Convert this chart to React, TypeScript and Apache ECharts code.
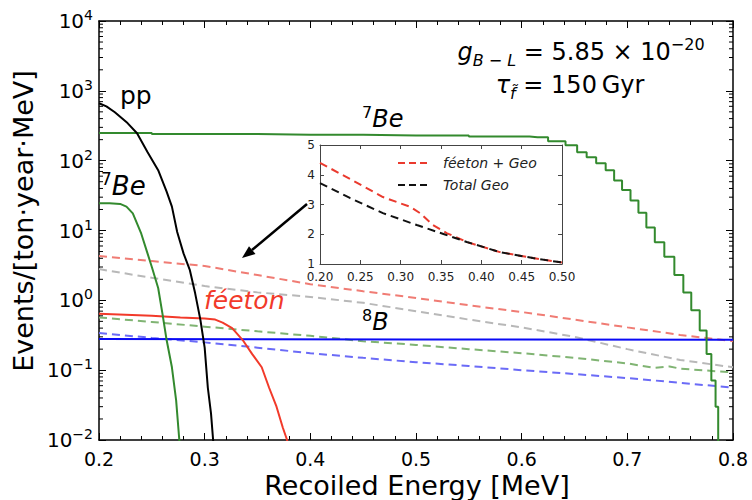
import React, { useEffect, useRef } from 'react';
import * as echarts from 'echarts';

// ---- main panel data (Recoiled energy [MeV] vs events/[ton·year·MeV]) ----
const ppE = [0.2, 0.207, 0.215, 0.227, 0.236, 0.246, 0.256, 0.264, 0.269, 0.274, 0.28, 0.286, 0.291, 0.296, 0.3, 0.303, 0.306, 0.308, 0.309];
const ppV = [665, 600, 493, 345, 247, 132, 73, 36, 22, 9.5, 4.7, 2.7, 1.26, 0.52, 0.21, 0.056, 0.024, 0.01, 0.005];

const be7HighE = [0.2, 0.3, 0.4, 0.5, 0.6, 0.615, 0.635, 0.648, 0.657, 0.666, 0.675, 0.684, 0.691, 0.699, 0.707, 0.714, 0.722, 0.73, 0.74, 0.749, 0.757, 0.764, 0.773, 0.777, 0.782, 0.785, 0.787];
const be7HighV = [248, 240, 235, 230, 222, 217, 190, 166, 132, 112, 92, 73, 52, 38, 27, 18, 11, 6.8, 4.2, 2.3, 1.3, 0.72, 0.37, 0.17, 0.071, 0.03, 0.005];

const be7LowE = [0.2, 0.21, 0.22, 0.226, 0.232, 0.24, 0.245, 0.25, 0.256, 0.26, 0.264, 0.269, 0.273, 0.276, 0.278];
const be7LowV = [24.5, 24.5, 24, 22, 17.6, 9, 5.2, 3, 1.5, 0.65, 0.27, 0.11, 0.037, 0.01, 0.004];

const feetonE = [0.2, 0.25, 0.277, 0.3, 0.31, 0.317, 0.326, 0.336, 0.345, 0.354, 0.361, 0.368, 0.374, 0.378, 0.38];
const feetonV = [0.64, 0.6, 0.57, 0.55, 0.53, 0.48, 0.4, 0.27, 0.17, 0.11, 0.056, 0.03, 0.015, 0.01, 0.005];

const b8E = [0.2, 0.5, 0.8];
const b8V = [0.28, 0.275, 0.272];

const geoE = [0.2, 0.25, 0.3, 0.35, 0.4, 0.45, 0.5, 0.55, 0.6, 0.65, 0.7, 0.75, 0.8];
const feetonGeoV = [4.3, 3.65, 3.1, 2.3, 1.7, 1.35, 1.08, 0.85, 0.68, 0.53, 0.41, 0.32, 0.26];
const grayGeoV = [2.8, 2.1, 1.6, 1.3, 1.12, 0.92, 0.7, 0.53, 0.41, 0.3, 0.2, 0.14, 0.11];
const blueGeoV = [0.34, 0.29, 0.25, 0.21, 0.175, 0.15, 0.13, 0.115, 0.1, 0.088, 0.077, 0.066, 0.056];
const greenGeoE = [0.2, 0.25, 0.3, 0.35, 0.4, 0.45, 0.5, 0.55, 0.6, 0.65, 0.7, 0.725, 0.74, 0.75, 0.8];
const greenGeoV = [0.57, 0.49, 0.42, 0.36, 0.31, 0.26, 0.23, 0.2, 0.175, 0.15, 0.125, 0.108, 0.113, 0.105, 0.093];

// ---- inset data ----
const insetRedE = [0.2, 0.233, 0.278, 0.312, 0.324, 0.34, 0.357, 0.382, 0.423, 0.464, 0.5];
const insetRedV = [4.4, 3.92, 3.25, 2.92, 2.71, 2.31, 2.04, 1.74, 1.4, 1.2, 1.05];
const insetBlackE = [0.2, 0.237, 0.278, 0.32, 0.353, 0.382, 0.423, 0.464, 0.5];
const insetBlackV = [3.72, 3.22, 2.71, 2.31, 2.01, 1.74, 1.4, 1.2, 1.05];
const insetLegend = ['féeton + Geo', 'Total Geo'];
const insetColors = ['#ea3a2e', '#111'];

// ---- tick decorations ----
const decades = [-2, -1, 0, 1, 2, 3];
const minorMults = [2, 3, 4, 5, 6, 7, 8, 9];

const zip = (a: number[], b: number[]) => a.map((x, i) => [x, b[i]]);
const FONT = 'DejaVu Sans';

const supFmt = (v: number) => {
  const e = Math.round(Math.log10(v));
  const s = e < 0 ? '\u2212' + -e : String(e);
  return `{b|10}{s|${s}}`;
};

export default function App() {
  const ref = useRef<HTMLDivElement>(null);
  useEffect(() => {
    const chart = echarts.init(ref.current!, null, { renderer: 'svg' });
    const yMinor: number[][] = [];
    decades.forEach((d) => minorMults.forEach((m) => yMinor.push([0.2, m * Math.pow(10, d)])));

    const mainX = (pos: 'bottom' | 'top', labels: boolean) => ({
      type: 'value', gridIndex: 0, position: pos, min: 0.2, max: 0.8, interval: 0.1,
      axisLine: { show: true, lineStyle: { color: '#000', width: 1.5 } },
      axisTick: { show: true, inside: true, length: 7, lineStyle: { color: '#000', width: 1 } },
      minorTick: { show: true, splitNumber: 5, length: 4, lineStyle: { color: '#000', width: 1 } },
      splitLine: { show: false },
      axisLabel: { show: labels, fontSize: 19, lineHeight: 19, color: '#000', fontFamily: FONT, margin: 9, formatter: (v: number) => v.toFixed(1) },
    });
    const mainY = (pos: 'left' | 'right', labels: boolean) => ({
      type: 'log', gridIndex: 0, position: pos, min: 0.01, max: 10000, logBase: 10,
      axisLine: { show: true, lineStyle: { color: '#000', width: 1.5 } },
      axisTick: { show: true, inside: true, length: 7, lineStyle: { color: '#000', width: 1 } },
      splitLine: { show: false },
      axisLabel: {
        show: labels, margin: 6, formatter: supFmt,
        rich: {
          b: { fontSize: 20, color: '#000', fontFamily: FONT, lineHeight: 26 },
          s: { fontSize: 14, color: '#000', fontFamily: FONT, verticalAlign: 'top', lineHeight: 14 },
        },
      },
    });
    const inX = (pos: 'bottom' | 'top', labels: boolean) => ({
      type: 'value', gridIndex: 1, position: pos, min: 0.2, max: 0.5, interval: 0.05,
      axisLine: { show: true, lineStyle: { color: '#444', width: 1 } },
      axisTick: { show: true, inside: true, length: 4, lineStyle: { color: '#444' } },
      splitLine: { show: false },
      axisLabel: { show: labels, fontSize: 12, lineHeight: 12, color: '#222', fontFamily: FONT, margin: 7, formatter: (v: number) => v.toFixed(2) },
    });
    const inY = (pos: 'left' | 'right', labels: boolean) => ({
      type: 'value', gridIndex: 1, position: pos, min: 1, max: 5, interval: 1,
      axisLine: { show: true, lineStyle: { color: '#444', width: 1 } },
      axisTick: { show: true, inside: true, length: 4, lineStyle: { color: '#444' } },
      splitLine: { show: false },
      axisLabel: { show: labels, fontSize: 12, lineHeight: 10, color: '#222', fontFamily: FONT, margin: 5 },
    });

    const line = (name: string, data: number[][], color: string, dashed: boolean, width = 2, step: any = false, xi = 0, yi = 0) => ({
      type: 'line', name, data, xAxisIndex: xi, yAxisIndex: yi, showSymbol: false, symbol: 'none', step,
      lineStyle: { color, width, type: dashed ? [8, 5] : 'solid' }, itemStyle: { color },
      z: xi === 0 ? 2 : 5,
    });

    const legendGraphics: any[] = [];
    insetLegend.forEach((name, i) => {
      const y = 163 + i * 22;
      legendGraphics.push({ type: 'line', shape: { x1: 398, y1: y, x2: 428, y2: y }, style: { stroke: insetColors[i], lineWidth: 2, lineDash: [7, 4] } });
      legendGraphics.push({ type: 'text', x: 443, y, style: { text: name, font: `italic 14px "${FONT}"`, fill: '#222', align: 'left', verticalAlign: 'middle' } });
    });

    const option: any = {
      animation: false,
      backgroundColor: '#fff',
      textStyle: { fontFamily: FONT },
      grid: [
        { left: 99, right: 19, top: 21, bottom: 60 },
        { left: 320, top: 145, width: 242, height: 119 },
      ],
      xAxis: [mainX('bottom', true), mainX('top', false), inX('bottom', true), inX('top', false)],
      yAxis: [mainY('left', true), mainY('right', false), inY('left', true), inY('right', false)],
      series: [
        line('geoRed', zip(geoE, feetonGeoV), '#f07c74', true),
        line('geoGray', zip(geoE, grayGeoV), '#b8b8b8', true),
        line('geoGreen', zip(greenGeoE, greenGeoV), '#80b473', true),
        line('geoBlue', zip(geoE, blueGeoV), '#6b6bf7', true),
        line('b8', zip(b8E, b8V), '#0a0af5', false),
        line('feeton', zip(feetonE, feetonV), '#f23a2a', false),
        line('be7low', zip(be7LowE, be7LowV), '#338a2e', false),
        line('be7high', zip(be7HighE, be7HighV), '#338a2e', false, 2, 'middle'),
        line('pp', zip(ppE, ppV), '#000', false),
        line(insetLegend[0], zip(insetRedE, insetRedV), insetColors[0], true, 2, false, 2, 2),
        line(insetLegend[1], zip(insetBlackE, insetBlackV), insetColors[1], true, 2, false, 2, 2),
        {
          type: 'custom', xAxisIndex: 0, yAxisIndex: 0, silent: true, clip: false, z: 3,
          data: yMinor, encode: { x: 0, y: 1 },
          renderItem: (_p: any, api: any) => {
            const v = api.value(1);
            const l = api.coord([0.2, v]);
            const r = api.coord([0.8, v]);
            return {
              type: 'group', children: [
                { type: 'line', shape: { x1: l[0], y1: l[1], x2: l[0] + 4, y2: l[1] }, style: { stroke: '#000', lineWidth: 1 } },
                { type: 'line', shape: { x1: r[0], y1: r[1], x2: r[0] - 4, y2: r[1] }, style: { stroke: '#000', lineWidth: 1 } },
              ],
            };
          },
        },
      ],
      graphic: [
        ...legendGraphics,
        { type: 'text', x: 23, y: 221, rotation: Math.PI / 2, style: { text: 'Events/[ton·year·MeV]', font: `27px "${FONT}"`, fill: '#000', align: 'center', verticalAlign: 'middle' } },
        { type: 'text', x: 417, y: 485, style: { text: 'Recoiled Energy [MeV]', font: `27px "${FONT}"`, fill: '#000', align: 'center', verticalAlign: 'middle' } },
        { type: 'text', x: 120, y: 95, style: { text: 'pp', font: `25px "${FONT}"`, fill: '#000', align: 'left', verticalAlign: 'middle' } },
        {
          type: 'text', x: 101, y: 186, style: {
            text: '{s|7}{i|Be}', align: 'left', verticalAlign: 'middle',
            rich: { s: { fontSize: 17, fontFamily: FONT, fill: '#000', verticalAlign: 'top', lineHeight: 17 }, i: { fontSize: 26, fontStyle: 'italic', fontFamily: FONT, fill: '#000', lineHeight: 32 } },
          },
        },
        {
          type: 'text', x: 362, y: 119, style: {
            text: '{s|7}{i|Be}', align: 'left', verticalAlign: 'middle',
            rich: { s: { fontSize: 16, fontFamily: FONT, fill: '#000', verticalAlign: 'top', lineHeight: 16 }, i: { fontSize: 24, fontStyle: 'italic', fontFamily: FONT, fill: '#000', lineHeight: 30 } },
          },
        },
        {
          type: 'text', x: 362, y: 322, style: {
            text: '{s|8}{i|B}', align: 'left', verticalAlign: 'middle',
            rich: { s: { fontSize: 16, fontFamily: FONT, fill: '#000', verticalAlign: 'top', lineHeight: 16 }, i: { fontSize: 24, fontStyle: 'italic', fontFamily: FONT, fill: '#000', lineHeight: 30 } },
          },
        },
        { type: 'text', x: 204, y: 300, style: { text: 'féeton', font: `italic 25px "${FONT}"`, fill: '#f23a2a', align: 'left', verticalAlign: 'middle' } },
        {
          type: 'text', x: 581, y: 52, style: {
            text: '{g|g}{sub|B \u2212 L}{n| = 5.85 \u00d7 10}{sup|\u221220}', align: 'center', verticalAlign: 'middle',
            rich: {
              g: { fontSize: 24, fontStyle: 'italic', fontFamily: FONT, fill: '#000', lineHeight: 32 },
              sub: { fontSize: 16, fontStyle: 'italic', fontFamily: FONT, fill: '#000', verticalAlign: 'bottom', lineHeight: 16 },
              n: { fontSize: 24, fontFamily: FONT, fill: '#000', lineHeight: 32 },
              sup: { fontSize: 16, fontFamily: FONT, fill: '#000', verticalAlign: 'top', lineHeight: 16 },
            },
          },
        },
        {
          type: 'text', x: 570, y: 85, style: {
            text: '{g|\u03c4}{sub|f\u0303}{n| = 150\u2009Gyr}', align: 'center', verticalAlign: 'middle',
            rich: {
              g: { fontSize: 24, fontStyle: 'italic', fontFamily: FONT, fill: '#000', lineHeight: 32 },
              sub: { fontSize: 16, fontStyle: 'italic', fontFamily: FONT, fill: '#000', verticalAlign: 'bottom', lineHeight: 16 },
              n: { fontSize: 24, fontFamily: FONT, fill: '#000', lineHeight: 32 },
            },
          },
        },
        { type: 'line', shape: { x1: 307, y1: 204, x2: 252, y2: 250 }, style: { stroke: '#000', lineWidth: 2.5 } },
        { type: 'polygon', shape: { points: [[242, 258], [255.5, 254], [249, 246.2]] }, style: { fill: '#000' } },
      ],
    };
    chart.setOption(option);
    return () => chart.dispose();
  }, []);
  return <div ref={ref} style={{ position: 'fixed', left: 0, top: 0, width: 752, height: 500, background: '#fff' }} />;
}
